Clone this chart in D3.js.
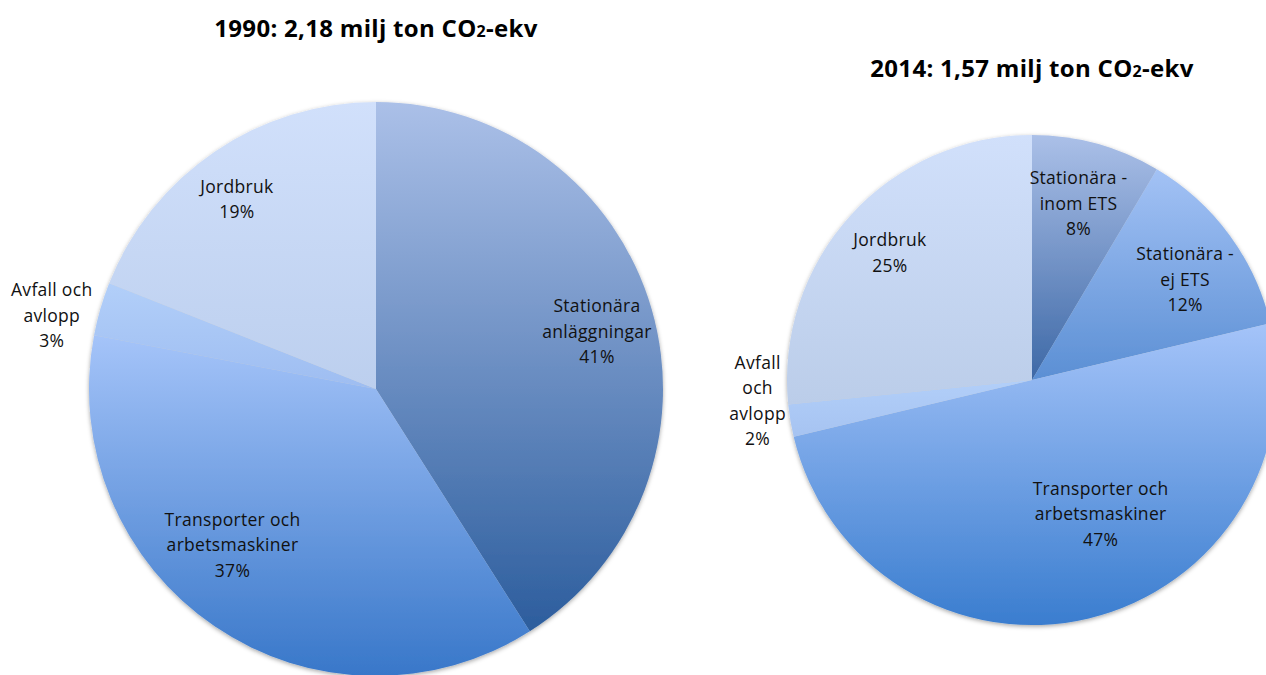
<!DOCTYPE html>
<html>
<head>
<meta charset="utf-8">
<script src="https://cdn.jsdelivr.net/npm/d3@7"></script>
<style>
  html, body { margin: 0; padding: 0; background: #fff; }
  svg { display: block; font-family: "Open Sans", Lato, sans-serif; }
</style>
</head>
<body>
<svg id="chart" width="1266" height="675"></svg>
<script>
// Emissions by sector, share in percent
const categories1990 = ["Stationära anläggningar", "Transporter och arbetsmaskiner", "Avfall och avlopp", "Jordbruk"];
const values1990 = [41, 37, 3, 19];

const categories2014 = ["Stationära - inom ETS", "Stationära - ej ETS", "Transporter och arbetsmaskiner", "Avfall och avlopp", "Jordbruk"];
const values2014 = [8, 12, 47, 2, 25];

// Label line breaks for each slice
const labelLines1990 = [["Stationära", "anläggningar"], ["Transporter och", "arbetsmaskiner"], ["Avfall och", "avlopp"], ["Jordbruk"]];
const labelLines2014 = [["Stationära -", "inom ETS"], ["Stationära -", "ej ETS"], ["Transporter och", "arbetsmaskiner"], ["Avfall", "och", "avlopp"], ["Jordbruk"]];

const titles = [
  { year: "1990", amount: "2,18" },
  { year: "2014", amount: "1,57" }
];

const svg = d3.select("#chart");
const defs = svg.append("defs");

const shadow = defs.append("filter").attr("id", "pieShadow")
  .attr("x", "-10%").attr("y", "-10%").attr("width", "120%").attr("height", "120%");
shadow.append("feDropShadow")
  .attr("dx", 0).attr("dy", 1.5).attr("stdDeviation", 2)
  .attr("flood-color", "#000").attr("flood-opacity", 0.35);

function gradient(id, top, bottom) {
  const g = defs.append("linearGradient").attr("id", id)
    .attr("x1", 0).attr("y1", 0).attr("x2", 0).attr("y2", 1);
  g.append("stop").attr("offset", "0%").attr("stop-color", top);
  g.append("stop").attr("offset", "100%").attr("stop-color", bottom);
  return `url(#${id})`;
}

const fills1990 = [
  gradient("g90a", "#abc0e8", "#2c5d9d"),
  gradient("g90b", "#a5c4f9", "#3877c9"),
  gradient("g90c", "#b2cff9", "#9ebdf1"),
  gradient("g90d", "#d1e0fb", "#bccfee")
];
const fills2014 = [
  gradient("g14a", "#abc0e8", "#3d68a6"),
  gradient("g14b", "#a3c2f5", "#5b8fd4"),
  gradient("g14c", "#a5c4f9", "#3a7dcf"),
  gradient("g14d", "#b2cff9", "#a6c3f1"),
  gradient("g14e", "#d1e0fb", "#bbcde9")
];

// Label anchor offsets from each pie's centre, in units of its radius
const labelOffsets1990 = [[0.77, -0.20], [-0.50, 0.545], [-1.13, -0.255], [-0.485, -0.66]];
const labelOffsets2014 = [[0.19, -0.72], [0.625, -0.41], [0.28, 0.547], [-1.12, 0.086], [-0.58, -0.518]];

function drawPie(cfg) {
  const g = svg.append("g").attr("transform", `translate(${cfg.cx},${cfg.cy})`);
  const pie = d3.pie().sort(null).value(d => d.value);
  const arc = d3.arc().innerRadius(0).outerRadius(cfg.r);
  const data = cfg.values.map((v, i) => ({ name: cfg.categories[i], value: v, i }));

  g.append("g").attr("filter", "url(#pieShadow)")
    .selectAll("path")
    .data(pie(data))
    .join("path")
    .attr("d", arc)
    .attr("fill", d => cfg.fills[d.data.i]);

  const lineH = 25.5;
  const labels = g.append("g")
    .selectAll("text")
    .data(data)
    .join("text")
    .attr("text-anchor", "middle")
    .attr("font-size", "17.5px")
    .attr("letter-spacing", "0.3px")
    .attr("fill", "#111");

  labels.each(function(d) {
    const lines = cfg.lines[d.i].concat([d.value + "%"]);
    const [ox, oy] = cfg.offsets[d.i];
    const x = ox * cfg.r;
    const y0 = oy * cfg.r - (lines.length - 1) * lineH / 2 + 6;
    d3.select(this).selectAll("tspan")
      .data(lines)
      .join("tspan")
      .attr("x", x)
      .attr("y", (t, k) => y0 + k * lineH)
      .text(t => t);
  });

  const title = svg.append("text")
    .attr("x", cfg.cx).attr("y", cfg.titleY)
    .attr("text-anchor", "middle")
    .attr("font-size", "24px")
    .attr("font-weight", "bold")
    .attr("letter-spacing", "0.3px")
    .attr("fill", "#000");
  title.append("tspan").text(`${cfg.title.year}: ${cfg.title.amount} milj ton CO`);
  title.append("tspan").attr("font-size", "16px").text("2");
  title.append("tspan").text("-ekv");
}

drawPie({ cx: 376, cy: 389, r: 287, values: values1990, categories: categories1990,
  lines: labelLines1990, fills: fills1990, offsets: labelOffsets1990, title: titles[0], titleY: 37 });
drawPie({ cx: 1032, cy: 380, r: 245, values: values2014, categories: categories2014,
  lines: labelLines2014, fills: fills2014, offsets: labelOffsets2014, title: titles[1], titleY: 77 });
</script>
</body>
</html>
